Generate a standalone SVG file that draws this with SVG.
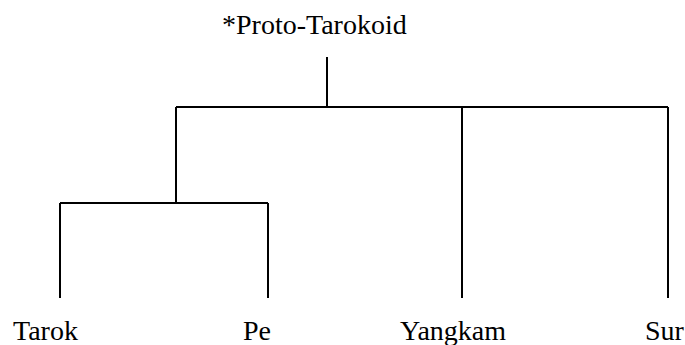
<svg xmlns="http://www.w3.org/2000/svg" width="685" height="345" viewBox="0 0 685 345" font-family="Liberation Serif, Tinos, Times New Roman, serif">
<style>
.c{stroke:#000;stroke-width:2;fill:none}
</style>
<rect width="685" height="345" fill="#fff"/>
<g id="connectors">
<path class="c" d="M327 57V107M176 107H668M176 107V203M462 107V298M668 107V298M60 203H268M60 203V298M268 203V298"/>
</g>
<g id="root"><text x="222" y="34" font-size="28" font-family="serif">*Proto-Tarokoid</text></g>
<g id="tarok"><text x="13" y="340" font-size="28" font-family="serif">Tarok</text></g>
<g id="pe"><text x="243" y="340" font-size="28" font-family="serif">Pe</text></g>
<g id="yangkam"><text x="400" y="340" font-size="28" font-family="serif">Yangkam</text></g>
<g id="sur"><text x="645" y="340" font-size="28" font-family="serif">Sur</text></g>
</svg>
